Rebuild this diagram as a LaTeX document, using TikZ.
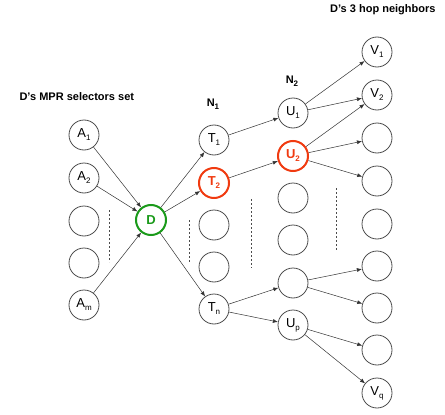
\documentclass[tikz,border=0pt]{standalone}
\usepackage{fontspec}
\setmainfont{Liberation Sans}
\usetikzlibrary{arrows.meta}
\definecolor{nred}{HTML}{F03A10}
\definecolor{ngreen}{HTML}{1A9A1A}
\newcommand\subx[1]{\raisebox{-3pt}{\fontsize{8}{8}\selectfont #1}}
\begin{document}
\begin{tikzpicture}[x=1pt,y=-1pt,
  nd/.style={circle,draw=black!70,line width=0.8pt,minimum size=30pt,inner sep=0pt,font=\fontsize{13}{14}\selectfont},
  rednd/.style={nd,draw=nred,line width=2pt,text=nred,font=\fontsize{13}{14}\selectfont\bfseries},
  greennd/.style={nd,draw=ngreen,line width=2pt,text=ngreen,font=\fontsize{13}{14}\selectfont\bfseries},
  arr/.style={-{Latex[length=5pt,width=4pt]},line width=0.5pt,draw=black!80},
  dsh/.style={dashed,dash pattern=on 2pt off 2pt,line width=0.5pt,draw=black!70},
  lbl/.style={font=\fontsize{11}{13}\selectfont\bfseries}]
\useasboundingbox (0,0) rectangle (445,415);
% column A
\node[nd] (A1) at (84,135) {A\subx{1}};
\node[nd] (A2) at (84,178) {A\subx{2}};
\node[nd] (A3) at (84,221) {};
\node[nd] (A4) at (84,263) {};
\node[nd] (Am) at (84,305) {A\subx{m}};
% D
\node[greennd] (D) at (151,220) {D};
% column T
\node[nd] (T1) at (214,140) {T\subx{1}};
\node[rednd] (T2) at (214,183) {T\subx{2}};
\node[nd] (T3) at (214,225) {};
\node[nd] (T4) at (214,267) {};
\node[nd] (Tn) at (214,309) {T\subx{n}};
% column U
\node[nd] (U1) at (293,113) {U\subx{1}};
\node[rednd] (U2) at (293,156) {U\subx{2}};
\node[nd] (U3) at (293,198) {};
\node[nd] (U4) at (293,240) {};
\node[nd] (U5) at (293,283) {};
\node[nd] (Up) at (293,325) {U\subx{p}};
% column V
\node[nd] (V1) at (377,52) {V\subx{1}};
\node[nd] (V2) at (377,95) {V\subx{2}};
\node[nd] (V3) at (377,138) {};
\node[nd] (V4) at (377,181) {};
\node[nd] (V5) at (377,224) {};
\node[nd] (V6) at (377,266) {};
\node[nd] (V7) at (377,308) {};
\node[nd] (V8) at (377,350) {};
\node[nd] (Vq) at (377,393) {V\subx{q}};
% labels
\node[lbl,anchor=west] (l1) at (16,97) {D’s MPR selectors set};
\node[lbl] (n1) at (213,104) {N\subx{1}};
\node[lbl] (n2) at (292,81) {N\subx{2}};
\node[lbl,anchor=east] (l2) at (439,10) {D’s 3 hop neighbors};
% dashed
\coordinate (d1a) at (109,210); \coordinate (d1b) at (109,262);
\coordinate (d2a) at (189,220); \coordinate (d2b) at (189,263);
\coordinate (d3a) at (251,199); \coordinate (d3b) at (251,268);
\coordinate (d4a) at (336,188); \coordinate (d4b) at (336,250);
\draw[dsh] (d1a) -- (d1b);
\draw[dsh] (d2a) -- (d2b);
\draw[dsh] (d3a) -- (d3b);
\draw[dsh] (d4a) -- (d4b);
% edges
\draw[arr] (A1) -- (D);
\draw[arr] (A2) -- (D);
\draw[arr] (Am) -- (D);
\draw[arr] (D) -- (T1);
\draw[arr] (D) -- (T2);
\draw[arr] (D) -- (Tn);
\draw[arr] (T1) -- (U1);
\draw[arr] (T2) -- (U2);
\draw[arr] (Tn) -- (U5);
\draw[arr] (Tn) -- (Up);
\draw[arr] (U1) -- (V1);
\draw[arr] (U1) -- (V2);
\draw[arr] (U2) -- (V2);
\draw[arr] (U2) -- (V3);
\draw[arr] (U2) -- (V4);
\draw[arr] (U5) -- (V6);
\draw[arr] (U5) -- (V7);
\draw[arr] (Up) -- (V8);
\draw[arr] (Up) -- (Vq);
\end{tikzpicture}
\end{document}
